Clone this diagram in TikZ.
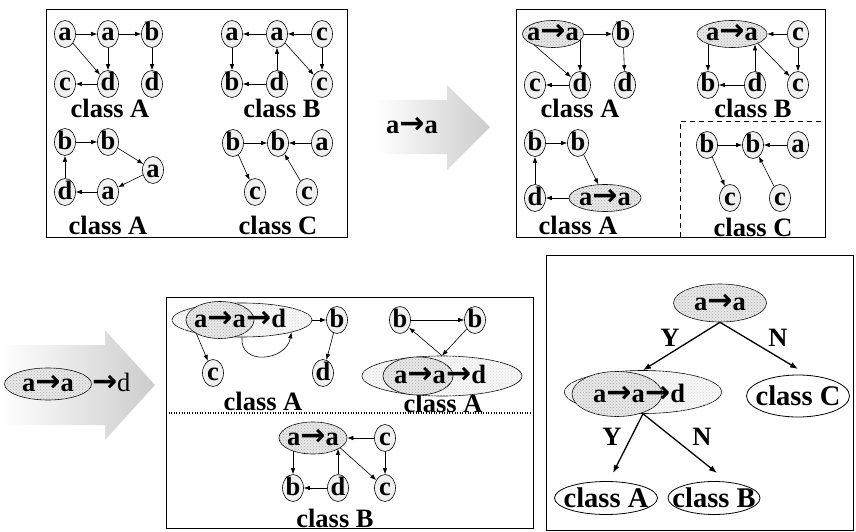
\documentclass[tikz,border=0pt]{standalone}
\usepackage{fontspec}
\setmainfont{Liberation Serif}
\newfontfamily\arrfont{DejaVu Sans}
\newcommand\myarr{{\arrfont\bfseries\fontsize{30}{30}\selectfont →}}
\usetikzlibrary{shapes.geometric,arrows.meta,calc,patterns}
\pgfdeclarelayer{bg}
\pgfsetlayers{bg,main}
\begin{document}
\begin{tikzpicture}[x=1pt,y=-1pt,
  every node/.style={font=\fontsize{26.5}{28}\selectfont\bfseries},
  n/.style={ellipse,draw,fill=gray!12,minimum width=21pt,minimum height=27pt,inner sep=0pt,text height=14pt,text depth=0pt,line width=0.6pt},
  sh/.style={ellipse,draw,fill=gray!18,postaction={pattern=crosshatch dots,pattern color=gray!65},inner sep=0pt,line width=0.6pt},
  lsh/.style={ellipse,draw,fill=gray!6,postaction={pattern=crosshatch dots,pattern color=gray!30},inner sep=0pt,line width=0.6pt},
  wh/.style={ellipse,draw,fill=white,inner sep=0pt,line width=0.8pt},
  tx/.style={inner sep=0pt,text height=14pt,text depth=0pt},
  lab/.style={inner sep=0pt},
  big/.style={inner sep=0pt,font=\fontsize{28.5}{30}\selectfont\bfseries},
  e/.style={draw,line width=0.6pt,-{Latex[length=6pt,width=4.5pt]}},
  ln/.style={draw,line width=0.6pt},
  box/.style={draw,line width=0.8pt},
  te/.style={draw,line width=1.3pt,-{Latex[length=8pt,width=6pt]}},
  ]
\useasboundingbox (0,0) rectangle (856,532);

% ---------- Box 1 ----------
\draw[box] (46,9) rectangle (347,237);
\node[n] (A1a) at (65,34) {a};
\node[n] (A1b) at (108,34) {a};
\node[n] (A1c) at (152,34) {b};
\node[n] (A1d) at (65,84) {c};
\node[n] (A1e) at (108,84) {d};
\node[n] (A1f) at (152,84) {d};
\node[lab] at (110,108) {class A};

\node[n] (B1a) at (232,34) {a};
\node[n] (B1b) at (277,34) {a};
\node[n] (B1c) at (322,34) {c};
\node[n] (B1d) at (232,84) {b};
\node[n] (B1e) at (277,84) {d};
\node[n] (B1f) at (322,84) {c};
\node[lab] at (282,108) {class B};

\node[n] (A2a) at (65,142) {b};
\node[n] (A2b) at (108,142) {b};
\node[n] (A2c) at (153,170) {a};
\node[n] (A2d) at (108,192) {a};
\node[n] (A2e) at (65,192) {d};
\node[lab] at (108,225) {class A};

\node[n] (C1a) at (233,143) {b};
\node[n] (C1b) at (278,143) {b};
\node[n] (C1c) at (322,143) {a};
\node[n] (C1d) at (255,192) {c};
\node[n] (C1e) at (307,192) {c};
\node[lab] at (278,225) {class C};

\draw[e] (A1a) -- (A1b);
\draw[e] (A1b) -- (A1c);
\draw[e] (A1a) -- (A1e);
\draw[e] (A1b) -- (A1e);
\draw[e] (A1c) -- (A1f);
\draw[e] (A1e) -- (A1d);
\draw[e] (B1b) -- (B1a);
\draw[e] (B1c) -- (B1b);
\draw[e] (B1a) -- (B1d);
\draw[e] (B1e) -- (B1b);
\draw[e] (B1b) -- (B1f);
\draw[e] (B1c) -- (B1f);
\draw[e] (B1e) -- (B1d);
\draw[e] (A2a) -- (A2b);
\draw[e] (A2b) -- (A2c);
\draw[e] (A2c) -- (A2d);
\draw[e] (A2d) -- (A2e);
\draw[e] (A2e) -- (A2a);
\draw[e] (C1a) -- (C1b);
\draw[e] (C1c) -- (C1b);
\draw[e] (C1a) -- (C1d);
\draw[e] (C1e) -- (C1b);

% ---------- arrow 1 ----------
\shade[left color=white,right color=gray!40] (375,100) -- (447,100) -- (447,85) -- (490,127) -- (447,170) -- (447,154) -- (375,154) -- cycle;
\node[tx] (ar1) at (412,127) {a\myarr a};

% ---------- Box 2 ----------
\draw[box] (516,9) rectangle (825,237);
\draw[ln,dashed,dash pattern=on 5pt off 4pt] (680,237) -- (680,121) -- (825,121);

\node[sh,minimum width=61pt,minimum height=27pt] (A3a) at (553,34) {};
\node[tx] at (A3a) {a\myarr a};
\node[n] (A3b) at (623,34) {b};
\node[n] (A3c) at (535,85) {c};
\node[n] (A3d) at (580,85) {d};
\node[n] (A3e) at (625,85) {d};
\node[lab] at (580,108) {class A};

\node[sh,minimum width=70pt,minimum height=27pt] (B2a) at (732,34) {};
\node[tx] at (B2a) {a\myarr a};
\node[n] (B2b) at (798,34) {c};
\node[n] (B2c) at (708,85) {b};
\node[n] (B2d) at (755,85) {d};
\node[n] (B2e) at (798,85) {c};
\node[lab] at (753,108) {class B};

\node[n] (A4a) at (535,143) {b};
\node[n] (A4b) at (578,143) {b};
\node[sh,minimum width=72pt,minimum height=27pt] (A4c) at (605,198) {};
\node[tx] at (A4c) {a\myarr a};
\node[n] (A4d) at (535,198) {d};
\node[lab] at (578,225) {class A};

\node[n] (C2a) at (707,145) {b};
\node[n] (C2b) at (753,145) {b};
\node[n] (C2c) at (798,145) {a};
\node[n] (C2d) at (730,198) {c};
\node[n] (C2e) at (780,198) {c};
\node[lab] at (753,227) {class C};

\begin{pgfonlayer}{bg}
\draw[e] (A3a) -- (A3b);
\draw[e] (A3a.-150) -- (A3d);
\draw[e] (A3a.center -| A3d) -- (A3d);
\draw[e] (A3b) -- (A3e);
\draw[e] (A3d) -- (A3c);
\draw[e] (B2a.center -| B2c) -- (B2c);
\draw[e] (B2b) -- (B2a);
\draw[e] (B2d) -- (B2a.-24 -| B2d);
\draw[e] (B2a.-20) -- (B2e);
\draw[e] (B2b) -- (B2e);
\draw[e] (B2d) -- (B2c);
\end{pgfonlayer}
\draw[e] (A4a) -- (A4b);
\draw[e] (A4b) -- (A4c);
\draw[e] (A4c) -- (A4d);
\draw[e] (A4d) -- (A4a);
\draw[e] (C2a) -- (C2b);
\draw[e] (C2c) -- (C2b);
\draw[e] (C2a) -- (C2d);
\draw[e] (C2e) -- (C2b);

% ---------- arrow 2 ----------
\shade[left color=white,right color=gray!40] (0,345) -- (105,345) -- (105,330) -- (155,385) -- (105,440) -- (105,425) -- (0,425) -- cycle;
\node[sh,minimum width=87pt,minimum height=32pt] (ar2) at (48,384) {};
\node[tx] (ar2t) at (ar2) {a\myarr a};
\node[tx,anchor=west,font=\fontsize{26.5}{28}\selectfont] at (ar2.east) {\myarr d};

% ---------- Box 3 ----------
\draw[box] (166,297) rectangle (533,528);
\draw[ln,dotted,line width=1.2pt] (166,413) -- (533,413);

\node[lsh,minimum width=140pt,minimum height=34pt] (E1) at (242,320) {};
\node[sh,minimum width=68pt,minimum height=37pt] (I1) at (220,320) {};
\node[tx] (T1) at (I1) {a\myarr a};
\node[tx,anchor=west] at (T1.east) {\myarr d};
\node[n] (A5b) at (337,320) {b};
\node[n] (A5c) at (213,373) {c};
\node[n] (A5d) at (323,373) {d};
\node[lab] at (263,401) {class A};

\node[lab] at (443,403) {class A};
\node[n] (A6a) at (400,320) {b};
\node[n] (A6b) at (475,320) {b};
\node[lsh,minimum width=160pt,minimum height=40pt] (E2) at (442,376) {};
\node[sh,minimum width=70pt,minimum height=38pt] (I2) at (418,376) {};
\node[tx] (T2) at (420,376) {a\myarr a};
\node[tx,anchor=west] at (T2.east) {\myarr d};

\node[sh,minimum width=68pt,minimum height=32pt] (B3a) at (313,438) {};
\node[tx] at (B3a) {a\myarr a};
\node[n] (B3b) at (385,438) {c};
\node[n] (B3c) at (293,488) {b};
\node[n] (B3d) at (338,488) {d};
\node[n] (B3e) at (385,488) {c};
\node[lab] at (335,518) {class B};

\draw[e] (E1) -- (A5b);
\draw[e] (I1.-150) -- (A5c);
\draw[e] (E1.south) to[out=-95,in=-100,looseness=1.5] (E1.-14);
\draw[e] (A5b) -- (A5d);
\draw[e] (A6a) -- (A6b);
\draw[e] (A6b) -- (E2.north);
\draw[e] (E2.north) -- (A6a);
\begin{pgfonlayer}{bg}
\draw[e] (B3b) -- (B3a);
\draw[e] (B3a.center -| B3c) -- (B3c);
\draw[e] (B3d) -- (B3a.-23 -| B3d);
\draw[e] (B3a.-20) -- (B3e);
\draw[e] (B3b) -- (B3e);
\draw[e] (B3d) -- (B3c);
\end{pgfonlayer}

% ---------- Box 4 (tree) ----------
\draw[box] (546,255) rectangle (853,530);
\node[sh,minimum width=93pt,minimum height=38pt] (R) at (720,303) {};
\node[tx] at (R) {a\myarr a};
\node[lsh,minimum width=157pt,minimum height=43pt] (Mo) at (643,392) {};
\node[sh,minimum width=90pt,minimum height=45pt] (Mi) at (617,394) {};
\node[tx] (MT) at (619,395) {a\myarr a};
\node[tx,anchor=west] at (MT.east) {\myarr d};
\node[wh,minimum width=103pt,minimum height=42pt] (cC) at (798,396) {};
\node[big] at (cC) {class C};
\node[wh,minimum width=103pt,minimum height=33pt] (cA) at (606,498) {};
\node[big] at (cA) {class A};
\node[wh,minimum width=92pt,minimum height=33pt] (cB) at (714,498) {};
\node[big] at (cB) {class B};
\coordinate (tC) at (798,369);
\coordinate (tA) at (613,473);
\coordinate (tB) at (717,473);
\draw[te] (R.south) -- (Mo.north);
\draw[te] (R.south) -- (tC);
\draw[te] (Mo.south) -- (tA);
\draw[te] (Mo.south) -- (tB);
\node[lab] at (670,338) {Y};
\node[lab] at (778,338) {N};
\node[lab] at (612,437) {Y};
\node[lab] at (702,437) {N};
\end{tikzpicture}
\end{document}
